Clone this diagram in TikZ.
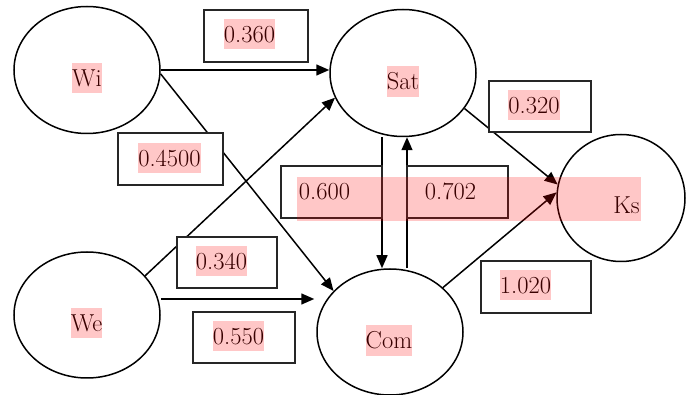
\documentclass[tikz,border=0pt]{standalone}
\usetikzlibrary{shapes.geometric,arrows.meta}
\begin{document}
\begin{tikzpicture}[x=1pt,y=-1pt,
  circ/.style={ellipse,draw,line width=1.5pt,inner sep=0pt},
  conn/.style={line width=1.5pt,-{Triangle[length=13pt,width=11pt]}},
  valbox/.style={rectangle,draw=black!85,line width=1.5pt,fill=white,inner sep=0pt},
  lbl/.style={font=\fontsize{24.5}{28}\selectfont,inner xsep=0pt,inner ysep=0pt,text height=23.5pt,text depth=6.5pt},
  hl/.style={fill=red,fill opacity=0.22,draw=none}]
\useasboundingbox (0,0) rectangle (686,395);
% latent variables
\node[circ,minimum width=146pt,minimum height=127pt] (wi) at (87,70) {};
\node[circ,minimum width=146pt,minimum height=127pt] (sat) at (403,73) {};
\node[circ,minimum width=128pt,minimum height=127pt] (ks) at (621,198) {};
\node[circ,minimum width=146pt,minimum height=126pt] (we) at (87,315) {};
\node[circ,minimum width=146pt,minimum height=126pt] (com) at (390,332) {};
% connectors
\draw[conn] (wi.east) -- (wi.east -| sat.west);
\draw[conn] (wi.-3) -- (com.144);
\draw[conn] (we.34) -- (sat.200);
\draw[conn] ([yshift=16pt]we.east) -- ([yshift=16pt,xshift=-2pt]we.east -| com.west);
\draw[conn] ([xshift=-21pt]sat.south) -- ([xshift=-21pt]sat.south |- com.north);
\draw[conn] ([xshift=4pt]sat.south |- com.north) -- ([xshift=4pt]sat.south);
\draw[conn] (sat.-30) -- (ks.168);
\draw[conn] (com.40) -- (ks.175);
% value boxes
\node[valbox,minimum width=104pt,minimum height=52pt] (b360) at (256,36) {};
\node[valbox,minimum width=105pt,minimum height=52pt] (b4500) at (170.5,159) {};
\node[valbox,minimum width=102pt,minimum height=51pt] (b320) at (540,106.5) {};
\node[valbox,minimum width=101pt,minimum height=52pt] (b600) at (331.5,192) {};
\node[valbox,minimum width=101pt,minimum height=52pt] (b702) at (457.5,192) {};
\node[valbox,minimum width=100pt,minimum height=51pt] (b340) at (227,262.5) {};
\node[valbox,minimum width=102pt,minimum height=51pt] (b550) at (244,337.5) {};
\node[valbox,minimum width=110pt,minimum height=52pt] (b1020) at (536,287) {};
% texts
\node[lbl] (twi) at (87,78) {Wi};
\node[lbl] (tsat) at (403,81.5) {Sat};
\node[lbl] (twe) at (86.5,323) {We};
\node[lbl] (tcom) at (389,340.5) {Com};
\node[lbl] (tks) at (626.5,205.5) {Ks};
\node[lbl] (t360) at (249.5,34) {0.360};
\node[lbl] (t4500) at (169.5,158) {0.4500};
\node[lbl] (t320) at (534,105) {0.320};
\node[lbl] (t600) at (324.5,191) {0.600};
\node[lbl] (t702) at (450.5,191) {0.702};
\node[lbl] (t340) at (221.5,261) {0.340};
\node[lbl] (t550) at (238.5,336) {0.550};
\node[lbl] (t1020) at (525.5,285) {1.020};
% highlights
\foreach \n in {twi,tsat,twe,tcom,t360,t4500,t320,t340,t550,t1020}
  \fill[hl] (\n.south west) rectangle (\n.north east);
\fill[hl] (297,177) rectangle (641,221);
\end{tikzpicture}
\end{document}
